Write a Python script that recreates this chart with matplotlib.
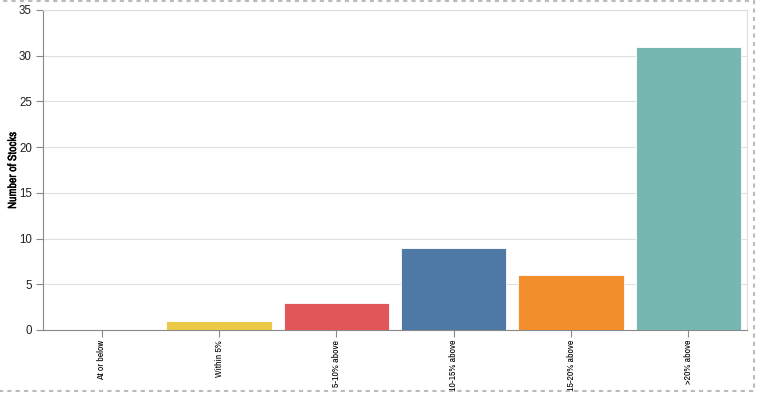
import matplotlib.pyplot as plt
import matplotlib.patheffects as pe
from matplotlib import font_manager
from matplotlib.patches import Rectangle

categories = ["At or below", "Within 5%", "5-10% above", "10-15% above", "15-20% above", ">20% above"]
counts = [0, 1, 3, 9, 6, 31]
colors = ["#4E79A7", "#EDC948", "#E15759", "#4E79A7", "#F28E2B", "#76B7B2"]
yticks = [0, 5, 10, 15, 20, 25, 30, 35]

names = sorted({f.name for f in font_manager.fontManager.ttflist})
narrow_opts = [n for n in names if "Narrow" in n or "Condensed" in n]
narrow = (narrow_opts[:1] or ["Liberation Sans"]) + ["DejaVu Sans"]

fig = plt.figure(figsize=(7.58, 3.94), dpi=100)
ax = fig.add_axes([43 / 758, 64 / 394, 704 / 758, 320 / 394])

x = range(len(categories))
ax.bar(x, counts, width=0.9, color=colors, edgecolor="white", linewidth=0.6, zorder=3)

ax.set_xlim(-0.5, len(categories) - 0.5)
ax.set_ylim(0, 35)
ax.set_yticks(yticks)
ax.set_yticklabels([str(t) for t in yticks], family=["Liberation Sans", "DejaVu Sans"])
ax.set_xticks(list(x))
ax.set_xticklabels(categories, rotation=90, fontsize=7, family=narrow, color="#000")
ax.tick_params(axis="y", labelsize=8.3, colors="#888", labelcolor="#222", length=5, width=0.8, pad=3)
ax.tick_params(axis="x", colors="#888", labelcolor="#000", length=5, width=0.8, pad=2)
ax.grid(axis="y", color="#e0e0e0", linewidth=0.8, zorder=0)

for side in ["top", "right"]:
    ax.spines[side].set_color("#dddddd")
    ax.spines[side].set_linewidth(0.8)
for side in ["left", "bottom"]:
    ax.spines[side].set_color("#888888")
    ax.spines[side].set_linewidth(0.8)

ylab = ax.set_ylabel("Number of Stocks", fontsize=8.5, fontweight="bold", family=narrow)
ylab.set_path_effects([pe.withStroke(linewidth=0.3, foreground="black")])
ax.yaxis.set_label_coords(-25 / 704, 0.5)

fig.patches.append(Rectangle((-2 / 758, 3 / 394), 756 / 758, 390 / 394, transform=fig.transFigure,
                             fill=False, edgecolor="#bbbbbb", linestyle=(0, (2, 2)), linewidth=1.5))

fig.savefig("out.png", dpi=100)
